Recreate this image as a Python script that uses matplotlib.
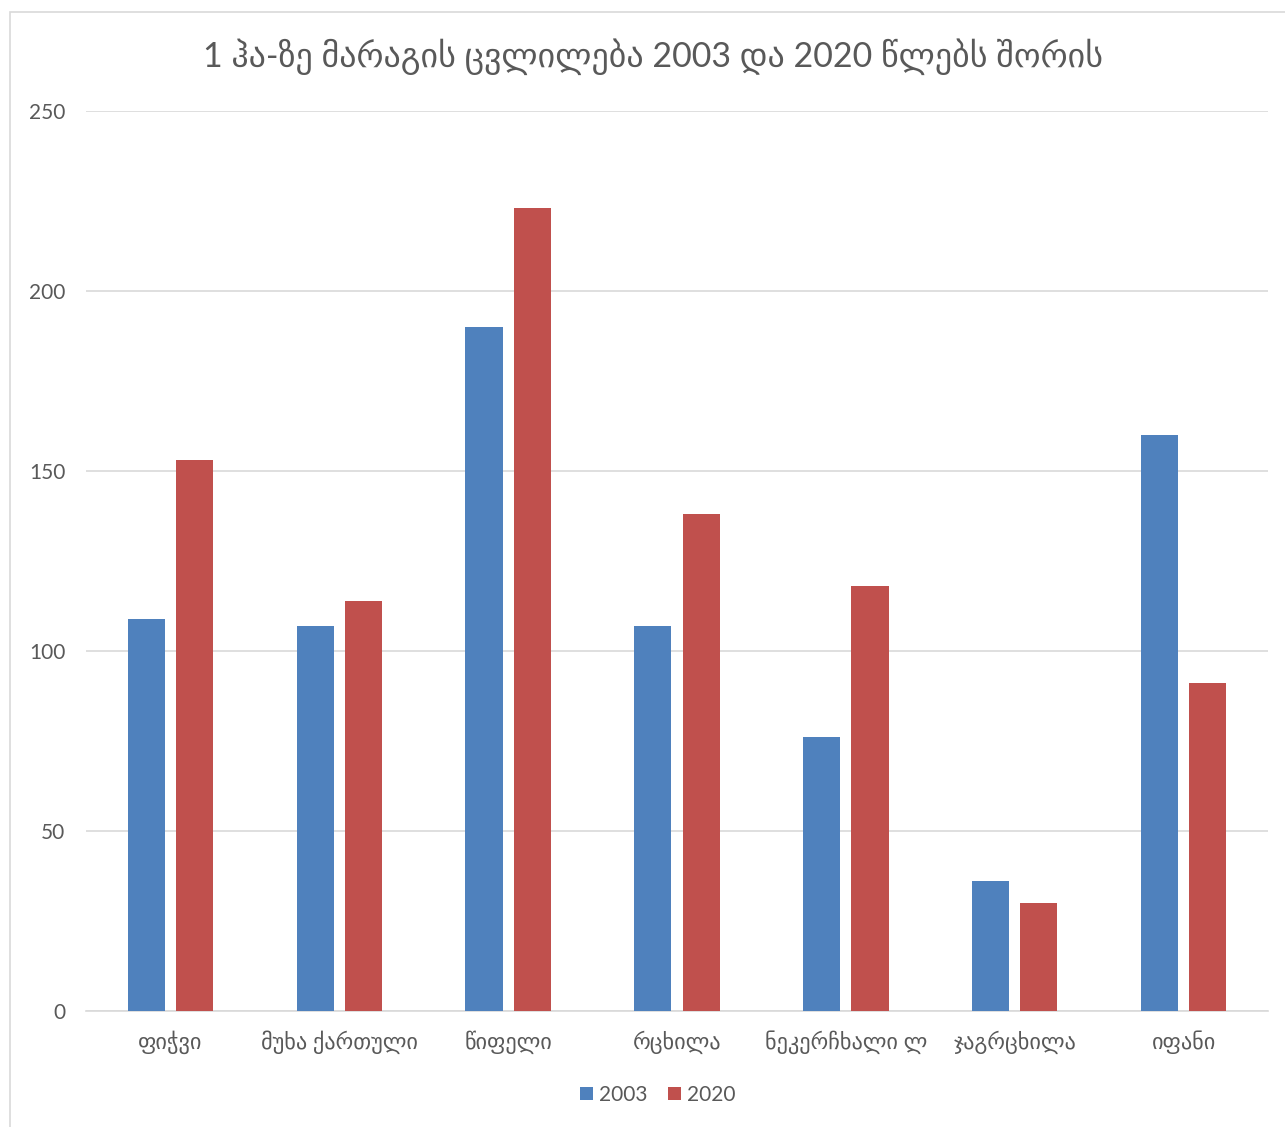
import matplotlib
matplotlib.use("Agg")
import matplotlib.pyplot as plt
import numpy as np
from matplotlib.patches import Rectangle

plt.rcParams['font.family'] = ['Lato', 'DejaVu Sans']

title = "1 ჰა-ზე მარაგის ცვლილება 2003 და 2020 წლებს შორის"
categories = ["ფიჭვი", "მუხა ქართული", "წიფელი", "რცხილა",
              "ნეკერჩხალი ლ", "ჯაგრცხილა", "იფანი"]
series_names = ["2003", "2020"]
values_2003 = [109, 107, 190, 107, 76, 36, 160]
values_2020 = [153, 114, 223, 138, 118, 30, 91]
y_ticks = [0, 50, 100, 150, 200, 250]

W, H = 1285, 1127
fig = plt.figure(figsize=(W / 100, H / 100), dpi=100)
fig.patch.set_facecolor("white")

# thin frame around the chart area
fig.patches.append(Rectangle((10 / W, -0.01), 1.1, (H - 12) / H + 0.01,
                             transform=fig.transFigure, fill=False,
                             edgecolor="#d9d9d9", linewidth=1.2))

left, right, top, bottom = 86, 1268, 111, 1011
ax = fig.add_axes([left / W, (H - bottom) / H, (right - left) / W, (bottom - top) / H])

x = np.arange(len(categories))
bw = 0.22
off = 0.143
ax.bar(x - off, values_2003, bw, color="#4f81bd", label=series_names[0], zorder=3)
ax.bar(x + off, values_2020, bw, color="#c0504d", label=series_names[1], zorder=3)

ax.set_xlim(-0.5, len(categories) - 0.5)
ax.set_ylim(0, 250)
ax.set_yticks(y_ticks)
ax.yaxis.grid(True, color="#d9d9d9", linewidth=1.2, zorder=0)
ax.set_axisbelow(True)
for s in ["left", "right", "top"]:
    ax.spines[s].set_visible(False)
ax.spines["bottom"].set_color("#d9d9d9")
ax.spines["bottom"].set_linewidth(1.2)
ax.tick_params(axis="both", length=0, colors="#595959")
ax.tick_params(axis="y", pad=15, labelsize=15)
ax.tick_params(axis="x", pad=14)
ax.set_xticks(x)
ax.set_xticklabels(categories, fontsize=16)

fig.text(0.508, (H - 57) / H, title, ha="center", va="center",
         fontsize=24.5, color="#595959")

leg = fig.legend(loc="center", bbox_to_anchor=(0.512, (H - 1095) / H), ncol=2,
                 frameon=False, fontsize=15, handlelength=0.6, handleheight=0.6,
                 handletextpad=0.3, columnspacing=1.0)
for t in leg.get_texts():
    t.set_color("#595959")

fig.savefig("out.png", dpi=100, facecolor="white")
